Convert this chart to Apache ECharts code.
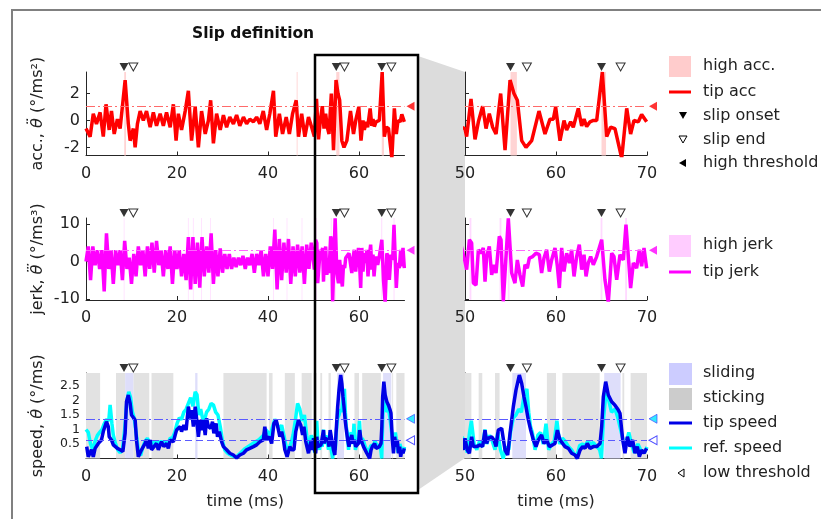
<!DOCTYPE html>
<html><head><meta charset="utf-8">
<script src="https://cdn.jsdelivr.net/npm/echarts@6/dist/echarts.min.js"></script>
<style>html,body{margin:0;padding:0;background:#fff}#c{width:821px;height:519px}</style>
</head><body><div id="c"></div>
<script>
// ---------- data ----------
const accT = [0,0.9,1.6,2.3,3.1,3.8,4.4,5.1,5.6,6.2,6.9,7.5,8.6,9.3,9.7,10.4,10.8,11.3,11.9,12.6,13.3,14.1,14.8,15.5,16.3,17.0,17.7,18.5,19.2,19.8,20.3,21.0,21.8,22.5,23.2,24.0,24.7,25.4,26.2,26.9,27.4,28.0,28.7,29.5,30.2,30.9,31.6,32.4,33.1,33.8,34.6,35.3,36.0,36.8,37.5,38.2,38.96,39.7,40.4,41.2,41.7,42.5,43.2,44.0,44.7,45.4,46.2,46.7,47.4,48.1,48.9,49.6,
  50.0,50.18,50.66,51.1,51.47,51.94,52.31,52.67,53.04,53.41,53.92,54.4,54.95,55.38,55.75,56.23,56.7,57.33,58.13,58.79,59.34,59.71,59.96,60.44,60.88,61.17,61.61,61.9,62.45,62.82,63.08,63.37,63.74,64.1,64.47,65.09,65.57,66.0,66.48,67.22,67.77,68.2,68.57,69.05,69.41,69.96];
const accV = [-0.6,-1.2,0.5,-0.25,0.6,-1.2,1.2,-0.7,0.7,-1.0,0.1,-0.6,3.0,-0.25,-1.5,-0.6,-2.0,-0.25,0.7,0,0.7,-0.5,0.6,-0.4,0.5,-0.4,0.6,-0.5,1.2,-1.5,0.5,-0.7,0.7,2.2,-1.5,1.0,-2.0,0.7,-1.0,0,1.5,-1.7,0.5,-0.7,0.4,-0.5,0.25,-0.25,0.4,-0.4,0.25,-0.25,0.1,-0.1,0.25,-0.25,0.7,-0.7,0.5,2.2,-1.2,0.5,-1.0,0.25,-1.0,0.5,1.5,-1.2,0.5,-1.2,0.25,-0.5,
  -0.6,-1.2,1.6,-1.4,-0.1,1.06,-0.6,0.5,-0.5,-1.0,2.0,-2.2,3.0,2.0,1.5,-1.5,-2.0,-1.5,0.7,-1.0,0.1,0.1,1.0,-1.5,0,-0.7,-0.1,-0.5,0.9,-0.4,0.1,-0.45,-0.1,0,0,3.6,-1.2,-0.5,-0.6,-2.8,0.9,-1.0,0,-0.1,0.45,-0.1];

const jerkT = [0,0.5,1,1.5,2,2.5,3,3.5,4,4.5,5,5.5,6,6.5,7,7.5,8,8.5,9,9.5,10,10.5,11,11.5,12,12.5,13,13.5,14,14.5,15,15.5,16,16.5,17,17.5,18,18.5,19,19.5,20,20.5,21,21.5,22,22.5,23,23.5,24,24.5,25,25.5,26,26.5,27,27.5,28,28.5,29,29.5,30,30.5,31,31.5,32,32.5,33,33.5,34,34.5,35,35.5,36,36.5,37,37.5,38,38.5,39,39.5,40,40.5,41,41.5,42,42.5,43,43.5,44,44.5,45,45.5,46,46.5,47,47.5,48,48.5,49,49.5,
  50.0,50.18,50.48,50.73,50.92,51.21,51.47,51.72,52.01,52.2,52.38,52.67,52.93,53.19,53.41,53.77,53.96,54.21,54.76,55.13,55.49,55.75,56.04,56.34,56.59,56.85,57.07,57.44,57.8,58.17,58.42,58.68,58.97,59.27,59.52,59.89,60.15,60.37,60.62,60.88,61.17,61.47,61.72,61.98,62.27,62.56,62.82,63.08,63.3,63.55,63.81,64.1,64.47,65.02,65.38,65.75,66.12,66.37,66.67,67.03,67.4,67.69,67.95,68.2,68.5,68.86,69.16,69.41,69.67,69.96];
const jerkV = [0,4,-5,4,-1,3,-2,3,-8,7.5,-2,3,-6,3,-1,3,-5,5.5,-2,1,-6,2,-4,4,-1,3,-4,4,-2,5,-3,5.5,-1,3,-4,3,-2,4,-6,3,-2,3,-4,2,-5,6.5,-7.5,6.5,-6,5,-7,6.5,-4,4,-3,7.5,-6,3,-4,3.5,-3,2,-2,2,-2,1,-1.5,1,-1,1.5,-2,1,-1,2,-3,2,-1,3,-4,2,-4,4,-2,8.5,-7.5,6,-5,5,-3,6,-6,4,-4,4.5,-3,4,-6,4.5,-2,5,
  0,-2.2,5.8,4.9,-5.8,-6.3,3.1,2.2,3.6,-5.4,1.3,4.0,-3.6,-0.9,-3.1,6.7,5.8,-10.7,11.5,-3.1,-5.8,0.4,-3.6,-6.7,-0.9,-1.8,0.9,1.3,2.2,1.8,-3.1,0.9,3.1,-2.7,0.4,3.6,-1.3,-7.1,3.6,-2.7,2.2,-0.4,3.1,-4.0,1.3,4.5,-2.2,1.8,-4.0,-0.4,1.3,-0.9,1.3,5.8,-4.9,-11,2.2,1.3,-4.9,1.8,0.4,9.8,1.3,-7.1,-0.4,-1.8,3.1,-1.3,3.6,-1.8];

const tipT = [0.15,0.5,1.2,1.6,2.0,2.7,3.4,3.8,4.2,4.5,4.9,5.1,5.6,6.0,6.4,6.9,7.5,8.1,8.6,8.9,9.3,9.7,10.0,10.4,10.8,11.1,11.5,11.9,12.2,13.0,13.3,13.7,14.1,14.4,14.8,15.5,15.9,16.3,16.6,17.1,17.7,18.1,18.5,19.2,19.6,19.9,20.7,21.0,21.5,22.0,22.5,22.9,23.2,23.6,24.0,24.3,24.7,25.1,25.4,25.8,26.2,26.5,26.9,27.4,27.8,28.1,28.6,28.9,29.3,29.8,30.2,30.9,31.6,32.4,33.1,33.8,34.6,35.3,36.0,36.8,37.5,38.2,38.97,39.3,39.7,40.3,40.8,41.3,41.8,42.3,42.6,43.0,43.4,43.7,44.2,44.8,45.2,45.7,46.1,46.7,47.2,47.6,47.9,48.3,48.9,49.4,49.8,
  50.0,50.25,50.48,50.73,50.92,51.29,51.65,51.94,52.2,52.38,52.56,52.93,53.19,53.41,53.66,54.03,54.4,54.69,54.95,55.31,55.6,55.97,56.23,56.48,56.7,56.96,57.22,57.51,57.8,58.06,58.42,58.68,58.97,59.27,59.63,59.89,60.15,60.44,60.73,60.99,61.36,61.72,62.09,62.34,62.64,62.93,63.19,63.44,63.74,64.1,64.47,64.84,65.02,65.2,65.46,65.75,66.12,66.48,66.85,67.03,67.33,67.58,67.84,68.13,68.42,68.68,68.94,69.16,69.41,69.67,69.96];
const tipV = [0.41,0.06,0.3,0.06,0.35,0.52,0.64,0.93,0.98,1.27,1.1,0.75,0.64,0.47,0.41,0.35,0.3,0.24,0.87,1.96,2.19,1.9,1.5,1.44,1.33,0.64,0.06,0.06,0.3,0.52,0.64,0.35,0.64,0.3,0.35,0.52,0.3,0.47,0.58,0.41,0.52,0.35,0.64,0.58,0.81,0.98,1.1,0.93,1.15,0.98,1.79,1.38,1.67,1.1,1.79,1.38,0.75,1.33,0.98,1.33,0.81,1.38,1.1,1.04,1.27,0.87,1.21,0.75,0.93,0.58,0.41,0.3,0.18,0.12,0.02,0.12,0.18,0.3,0.35,0.41,0.47,0.58,0.64,1.1,0.64,0.75,0.52,1.21,1.33,0.98,0.75,0.93,0.64,0.3,0.06,0.41,0.3,0.3,0.93,1.33,1.15,0.81,1.1,0.58,0.18,0.58,0.3,
  0.7,0.29,0.18,0.75,0.41,0.41,0.47,0.41,0.98,0.52,0.7,0.75,0.64,0.41,0.98,1.04,0.29,0.12,0.87,1.79,2.36,2.88,2.59,2.13,1.79,1.33,0.98,0.64,0.41,0.64,0.81,0.52,0.64,0.41,0.47,0.52,0.98,0.64,0.52,0.41,0.35,0.18,0.12,0.0,0.29,0.41,0.35,0.52,0.35,0.41,0.41,0.52,1.1,2.13,2.65,2.19,1.96,1.84,1.67,1.56,0.64,0.18,0.75,0.41,0.64,0.18,0.41,0.06,0.29,0.18,0.35];

const refT = [0,0.5,1,1.5,2,2.5,3,3.5,4,4.5,5,5.3,5.7,6,6.5,7,7.5,8,8.5,9,9.4,9.8,10.2,10.6,11,11.5,12,12.5,13,13.5,14,14.5,15,15.5,16,16.5,17,17.5,18,18.5,19,19.5,20,20.5,21,21.5,22,22.5,23,23.5,24,24.4,24.8,25.2,25.6,26,26.5,27,27.5,28,28.5,29,29.5,30,30.5,31,31.5,32,33,34,35,36,37,38,39,39.5,40,40.5,41,41.5,42,42.5,43,43.5,44,44.5,45,45.5,46,46.5,47,47.5,48,48.5,49,49.5,
  50,50.25,50.5,50.7,51,51.3,51.6,51.9,52.2,52.4,52.7,53,53.3,53.6,53.9,54.2,54.5,54.8,55,55.3,55.6,55.9,56.2,56.5,56.8,57.0,57.2,57.4,57.7,58,58.3,58.6,58.9,59.2,59.5,59.8,60.1,60.4,60.7,61,61.4,61.7,62,62.3,62.6,62.9,63.2,63.5,63.8,64.1,64.5,64.8,65,65.2,65.5,65.8,66.1,66.5,66.8,67.1,67.4,67.7,68,68.3,68.6,69,69.3,69.7,70];
const refV = [1.0,0.9,0.5,0.3,0.6,0.8,0.9,1.0,1.2,1.35,1.3,1.85,1.2,0.8,0.5,0.3,0.2,0.3,1.0,2.0,2.3,2.1,1.6,1.4,0.9,0.3,0.1,0.4,0.6,0.7,0.5,0.6,0.5,0.6,0.5,0.6,0.5,0.6,0.5,0.7,0.7,0.9,1.2,1.4,1.35,1.6,1.7,1.9,2.1,1.8,2.3,2.2,1.5,1.7,1.4,1.3,1.6,1.7,1.9,1.85,1.6,1.5,1.1,0.6,0.3,0.2,0.15,0.1,0.05,0.2,0.35,0.45,0.55,0.65,0.8,1.0,0.9,0.8,1.1,1.35,1.2,1.0,1.15,0.8,0.4,0.3,0.5,0.8,1.3,1.9,1.7,1.3,1.5,0.8,0.3,0.8,
  0.6,0.2,0.9,1.3,0.5,0.3,0.6,0.4,1.0,0.5,0.8,0.6,0.3,0.9,0.3,0.0,0.4,0.3,0.9,1.4,1.5,1.7,1.6,2.2,2.4,1.6,1.1,0.9,0.3,0.8,0.9,0.5,1.2,0.3,0.5,0.6,1.3,0.5,0.7,0.6,0.4,0.3,0.15,0.1,0.45,0.5,0.45,0.6,0.5,0.55,0.4,0.3,0.0,1.3,2.3,2.0,1.6,1.7,1.4,1.0,0.6,0.5,0.9,0.5,0.2,0.5,0.3,0.2,0.4];

const accThreshold = 1.05, jerkThreshold = 3, speedHigh = 1.37, speedLow = 0.63;
const slipOnset = [8.35, 55.0, 65.0];
const slipEnd = [10.4, 56.8, 67.1];
const highAccBands = [[8.4,8.8],[46.3,46.5],[55.0,55.7],[65.0,65.5]];
const highJerkBands = [[8.3,8.45],[22.4,22.55],[23.5,23.65],[25.3,25.45],[27.3,27.45],[41.1,41.25],[44.1,44.25],[47.4,47.55],[50.5,50.7],[53.8,54.0],[54.7,54.9],[64.9,65.1],[67.6,67.8]];
const stickBands = [[0,3.1],[6.6,8.6],[10.4,13.9],[14.4,19.2],[30.2,39.7],[40.2,41.0],[43.7,45.9],[47.4,49.6],[50,50.7],[51.5,51.9],[53.3,53.8],[59,60],[60.7,64.8],[67.3,67.5],[68.2,70]];
const slideBands = [[8.6,10.4],[24.0,24.5],[55.2,56.7],[65.3,67.1]];
const xTicksLeft = [0,20,40,60], xTicksRight = [50,60,70];
const accTicks = [-2,0,2], jerkTicks = [-10,0,10], speedTicks = [0.5,1,1.5,2,2.5];
const accRange = [-2.6,3.6], jerkRange = [-10.3,11.6], speedRange = [0,2.95];

// ---------- build ----------
const FONT = 'DejaVu Sans, Verdana, sans-serif';
const TXT = '#222';
const zip = (T,V)=>T.map((t,i)=>[t,V[i]]);
const band = (list,lo,hi)=>list.filter(b=>b[1]>lo&&b[0]<hi).map(b=>[{xAxis:Math.max(b[0],lo)},{xAxis:Math.min(b[1],hi)}]);
const DOWN = 'path://M0,0 L10,0 L5,9 Z';
const LEFT = 'path://M10,0 L10,10 L0,5 Z';

const rowsTop = [72,218,373], rowsH = [83.5,82,85.5];
const sides = [{left:86,width:318.5,range:[0,70],ticks:xTicksLeft,labels:true},
               {left:465,width:182,range:[50,70],ticks:xTicksRight,labels:false}];
const yRanges = [accRange,jerkRange,speedRange];
const yTicks = [accTicks,jerkTicks,speedTicks];
const yLabelSize = [16,16,12.5];
const yNames = ['{a|acc., }{i|\u03B8\u0308}{a| (°/ms²)}','{a|jerk, }{i|\u03B8\u20DB}{a| (°/ms³)}','{a|speed, }{i|\u03B8\u0307}{a| (°/ms)}'];

const grid=[], xAxis=[], yAxis=[], series=[];
let idx=0;
sides.forEach((s,si)=>{
  [0,1,2].forEach(r=>{
    const i=idx++;
    grid.push({left:s.left,top:rowsTop[r],width:s.width,height:rowsH[r],containLabel:false});
    xAxis.push({type:'value',gridIndex:i,min:s.range[0],max:s.range[1],
      axisLine:{show:true,onZero:false,lineStyle:{color:'#262626',width:1}},
      axisTick:{show:true,inside:true,length:4,customValues:s.ticks,lineStyle:{color:'#262626'}},
      axisLabel:{show:true,customValues:s.ticks,fontSize:16,color:TXT,fontFamily:FONT,margin:10,hideOverlap:false},
      splitLine:{show:false},
      name: r===2?'time (ms)':'', nameLocation:'middle', nameGap:35,
      nameTextStyle:{fontSize:16,color:TXT,fontFamily:FONT}});
    yAxis.push({type:'value',gridIndex:i,min:yRanges[r][0],max:yRanges[r][1],
      axisLine:{show:true,onZero:false,lineStyle:{color:'#262626',width:1}},
      axisTick:{show:true,inside:true,length:4,customValues:yTicks[r],lineStyle:{color:'#262626'}},
      axisLabel:{show:s.labels,customValues:yTicks[r],fontSize:yLabelSize[r],color:TXT,fontFamily:FONT,margin:6,hideOverlap:false},
      splitLine:{show:false},
      name: s.labels?yNames[r]:'', nameLocation:'middle', nameRotate:90, nameGap:40,
      nameTextStyle:{fontSize:16,color:TXT,fontFamily:FONT,rich:{a:{fontSize:16,fontFamily:FONT,color:TXT},i:{fontSize:16,fontStyle:'italic',fontFamily:FONT,color:TXT}}}});
    const lo=s.range[0], hi=s.range[1];
    const ax={xAxisIndex:i,yAxisIndex:i};
    const ymax=yRanges[r][1];
    const thrLine=(val,color,type)=>({silent:true,symbol:'none',label:{show:false},lineStyle:{color:color,width:1,type:type},data:[{yAxis:val}]});
    const dash=[9,3,2,3];
    if(r===0){
      series.push({type:'line',...ax,data:zip(accT,accV),showSymbol:false,lineStyle:{color:'#ff0000',width:3.5},itemStyle:{color:'#ff0000'},z:3,silent:true,
        markArea:{silent:true,itemStyle:{color:'#ffd4d4'},data:band(highAccBands,lo,hi)},
        markLine:thrLine(accThreshold,'#ff6a6a',dash)});
      series.push({type:'scatter',...ax,data:[[hi,accThreshold]],symbol:LEFT,symbolSize:[8,9],symbolOffset:[6,0],itemStyle:{color:'#ff0000'},clip:false,silent:true});
    } else if(r===1){
      series.push({type:'line',...ax,data:zip(jerkT,jerkV),showSymbol:false,lineStyle:{color:'#ff00ff',width:3.5},itemStyle:{color:'#ff00ff'},z:3,silent:true,
        markArea:{silent:true,itemStyle:{color:'#ffd9ff'},data:band(highJerkBands,lo,hi)},
        markLine:thrLine(jerkThreshold,'#ff66ff',dash)});
      series.push({type:'scatter',...ax,data:[[hi,jerkThreshold]],symbol:LEFT,symbolSize:[8,9],symbolOffset:[6,0],itemStyle:{color:'#ff00ff'},clip:false,silent:true});
    } else {
      series.push({type:'line',...ax,data:zip(refT,refV),showSymbol:false,lineStyle:{color:'#00ffff',width:3.5},itemStyle:{color:'#00ffff'},z:2,silent:true,
        markArea:{silent:true,itemStyle:{color:'#e2e2e2'},data:band(stickBands,lo,hi)}});
      series.push({type:'line',...ax,data:zip(tipT,tipV),showSymbol:false,lineStyle:{color:'#0000e6',width:3.5},itemStyle:{color:'#0000e6'},z:3,silent:true,
        markArea:{silent:true,itemStyle:{color:'#dedefa'},data:band(slideBands,lo,hi)},
        markLine:{silent:true,symbol:'none',label:{show:false},data:[
          {yAxis:speedHigh,lineStyle:{color:'#5a5aff',width:1,type:dash}},
          {yAxis:speedLow,lineStyle:{color:'#5a5aff',width:1,type:[7,4]}}]}});
      series.push({type:'scatter',...ax,data:[[hi,speedHigh]],symbol:LEFT,symbolSize:[8,9],symbolOffset:[6,0],itemStyle:{color:'#00e5ff',borderColor:'#3b3bff',borderWidth:0.8},clip:false,silent:true});
      series.push({type:'scatter',...ax,data:[[hi,speedLow]],symbol:LEFT,symbolSize:[8,9],symbolOffset:[6,0],itemStyle:{color:'#ffffff',borderColor:'#2020ff',borderWidth:1},clip:false,silent:true});
    }
    series.push({type:'scatter',...ax,data:slipOnset.filter(t=>t>=lo&&t<=hi).map(t=>[t,ymax]),symbol:DOWN,symbolSize:[9,8],symbolOffset:[0,-5],itemStyle:{color:'#000'},clip:false,silent:true,z:5});
    series.push({type:'scatter',...ax,data:slipEnd.filter(t=>t>=lo&&t<=hi).map(t=>[t,ymax]),symbol:DOWN,symbolSize:[9,8],symbolOffset:[0,-5],itemStyle:{color:'#fff',borderColor:'#000',borderWidth:1},clip:false,silent:true,z:5});
  });
});

// legend graphics
const LX=669, TX=703;
const lt=(y,text)=>({type:'text',style:{x:TX,y:y,text:text,fontSize:16,fontFamily:FONT,fill:TXT,verticalAlign:'middle'}});
const graphic=[
  {type:'polyline',shape:{points:[[12,519],[12,10],[821,10]]},style:{stroke:'#808080',lineWidth:2,fill:null},z:-10},
  {type:'polygon',shape:{points:[[418,56],[465,72],[465,458],[418,490]]},style:{fill:'#dcdcdc'},z:-5},
  {type:'rect',shape:{x:315,y:55,width:103,height:438},style:{stroke:'#000',lineWidth:2.5,fill:null},z:20},
  // acc legend
  {type:'rect',shape:{x:LX,y:56,width:22,height:21},style:{fill:'#ffcccc'}}, lt(66,'high acc.'),
  {type:'line',shape:{x1:LX,y1:92,x2:LX+22,y2:92},style:{stroke:'#ff0000',lineWidth:3}}, lt(92,'tip acc'),
  {type:'polygon',shape:{points:[[679,112],[687,112],[683,119]]},style:{fill:'#000'}}, lt(116,'slip onset'),
  {type:'polygon',shape:{points:[[679,136],[687,136],[683,143]]},style:{fill:'#fff',stroke:'#000',lineWidth:1}}, lt(140,'slip end'),
  {type:'polygon',shape:{points:[[686,159],[686,167],[679,163]]},style:{fill:'#000'}}, lt(163,'high threshold'),
  // jerk legend
  {type:'rect',shape:{x:LX,y:235,width:22,height:22},style:{fill:'#ffccff'}}, lt(245,'high jerk'),
  {type:'line',shape:{x1:LX,y1:272,x2:LX+22,y2:272},style:{stroke:'#ff00ff',lineWidth:3}}, lt(272,'tip jerk'),
  // speed legend
  {type:'rect',shape:{x:LX,y:363,width:23,height:22},style:{fill:'#ccccff'}}, lt(373,'sliding'),
  {type:'rect',shape:{x:LX,y:388,width:23,height:22},style:{fill:'#cccccc'}}, lt(398,'sticking'),
  {type:'line',shape:{x1:LX,y1:423,x2:LX+23,y2:423},style:{stroke:'#0000e6',lineWidth:3}}, lt(423,'tip speed'),
  {type:'line',shape:{x1:LX,y1:448,x2:LX+23,y2:448},style:{stroke:'#00ffff',lineWidth:3}}, lt(448,'ref. speed'),
  {type:'polygon',shape:{points:[[684,469],[684,477],[678,473]]},style:{fill:'#fff',stroke:'#000',lineWidth:1}}, lt(473,'low threshold')
];

const chart = echarts.init(document.getElementById('c'),null,{renderer:'canvas'});
chart.setOption({
  animation:false,
  backgroundColor:'#ffffff',
  title:{text:'Slip definition',left:187,top:21,textStyle:{fontSize:15.5,fontWeight:'bold',color:'#111',fontFamily:FONT}},
  grid, xAxis, yAxis, series, graphic
});
</script></body></html>
